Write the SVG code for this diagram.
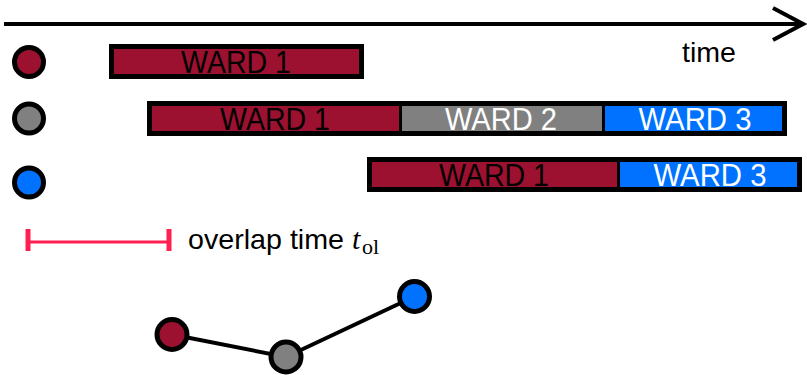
<svg xmlns="http://www.w3.org/2000/svg" width="807" height="375" viewBox="0 0 807 375">
<style>
.bg{fill:#fff}
.ax{stroke:#000;stroke-width:4;fill:none}
.outline{fill:none;stroke:#000;stroke-width:5}
.div{stroke:#000;stroke-width:3}
.m{fill:#9c1030}
.g{fill:#808080}
.b{fill:#0072ff}
.node{stroke:#000;stroke-width:5}
.lbl{font-family:"Liberation Sans",Arial,sans-serif;font-size:31px;text-anchor:middle}
.dk{fill:#000}
.wt{fill:#fff}
.txt{font-family:"Liberation Sans",Arial,sans-serif;font-size:28px;fill:#000}
.serif{font-family:"Liberation Serif","Times New Roman",serif;fill:#000}
.edge{stroke:#000;stroke-width:4;fill:none}
</style>
<rect class="bg" width="807" height="375"/>
<g id="time-axis">
<line class="ax" x1="4" y1="24" x2="802" y2="24"/>
<polyline class="ax" points="773,8 803,24 773,40"/>
<text class="txt" x="682" y="62" font-size="29" textLength="54" lengthAdjust="spacingAndGlyphs">time</text>
</g>
<g id="row1">
<circle class="node m" cx="29" cy="62" r="14.5"/>
<rect class="m" x="111.5" y="46.5" width="250" height="30"/>
<rect class="outline" x="111.5" y="46.5" width="250" height="30"/>
<text class="lbl dk" x="236" y="72.5" textLength="110" lengthAdjust="spacingAndGlyphs">WARD 1</text>
</g>
<g id="row2">
<circle class="node g" cx="29" cy="118.5" r="14.5"/>
<rect class="m" x="149.5" y="103.5" width="251" height="30"/>
<rect class="g" x="400.5" y="103.5" width="203" height="30"/>
<rect class="b" x="603.5" y="103.5" width="181" height="30"/>
<line class="div" x1="400.5" y1="103.5" x2="400.5" y2="133.5"/>
<line class="div" x1="603.5" y1="103.5" x2="603.5" y2="133.5"/>
<rect class="outline" x="149.5" y="103.5" width="635" height="30"/>
<text class="lbl dk" x="275" y="129.5" textLength="110" lengthAdjust="spacingAndGlyphs">WARD 1</text>
<text class="lbl wt" x="501" y="129.5" textLength="112" lengthAdjust="spacingAndGlyphs">WARD 2</text>
<text class="lbl wt" x="695" y="129.5" textLength="113" lengthAdjust="spacingAndGlyphs">WARD 3</text>
</g>
<g id="row3">
<circle class="node b" cx="29" cy="182.5" r="14.5"/>
<rect class="m" x="369.5" y="159.5" width="249" height="30"/>
<rect class="b" x="618.5" y="159.5" width="181" height="30"/>
<line class="div" x1="618.5" y1="159.5" x2="618.5" y2="189.5"/>
<rect class="outline" x="369.5" y="159.5" width="430" height="30"/>
<text class="lbl dk" x="494" y="185.5" textLength="110" lengthAdjust="spacingAndGlyphs">WARD 1</text>
<text class="lbl wt" x="710" y="185.5" textLength="113" lengthAdjust="spacingAndGlyphs">WARD 3</text>
</g>
<g id="overlap-legend">
<line x1="28" y1="242" x2="169" y2="242" stroke="#ff2050" stroke-width="3"/>
<line x1="28" y1="229" x2="28" y2="251" stroke="#ff2050" stroke-width="5"/>
<line x1="169" y1="229" x2="169" y2="251" stroke="#ff2050" stroke-width="5"/>
<text class="txt" x="188" y="249" textLength="156" lengthAdjust="spacingAndGlyphs">overlap time</text>
<text class="serif" x="352" y="249" font-size="30" font-style="italic">t</text>
<text class="serif" x="362" y="254" font-size="22">ol</text>
</g>
<g id="connectors">
<polyline class="edge" points="172,334.5 286,357 414.5,296.5"/>
</g>
<g id="node-red"><circle class="node m" cx="172" cy="334.5" r="15"/></g>
<g id="node-gray"><circle class="node g" cx="286" cy="357" r="15"/></g>
<g id="node-blue"><circle class="node b" cx="414.5" cy="296.5" r="15"/></g>
</svg>
